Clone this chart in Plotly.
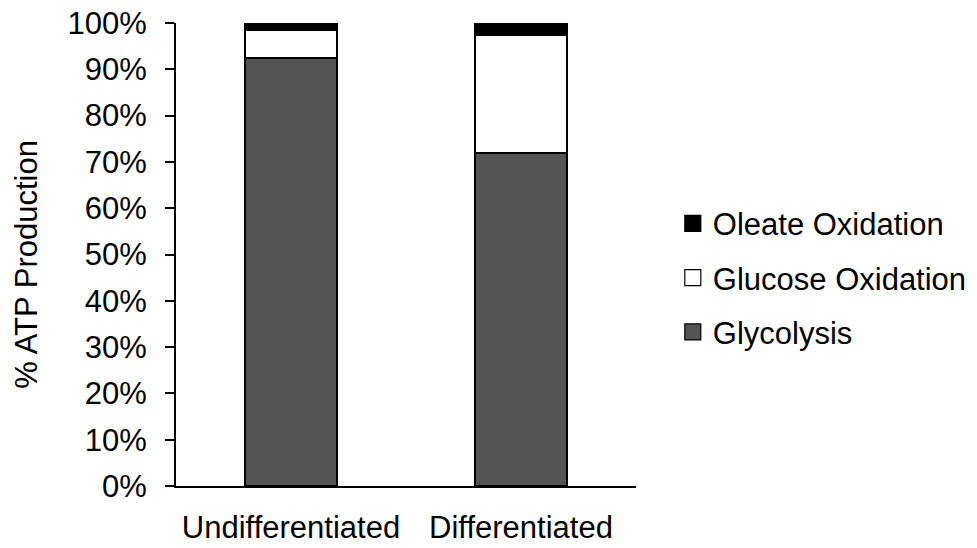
import plotly.graph_objects as go

# ATP production share by source (fraction of total)
categories = ["Undifferentiated", "Differentiated"]
glycolysis = [0.924, 0.719]
glucose_oxidation = [0.061, 0.254]
oleate_oxidation = [0.015, 0.027]

series_names = ["Glycolysis", "Glucose Oxidation", "Oleate Oxidation"]
series_values = [glycolysis, glucose_oxidation, oleate_oxidation]
series_colors = ["#545454", "#ffffff", "#000000"]

y_tick_values = [i / 10 for i in range(11)]
y_tick_labels = [f"{i * 10}%" for i in range(11)]

FONT = "Liberation Sans, Arial, sans-serif"

fig = go.Figure()
for name, vals, color in zip(series_names, series_values, series_colors):
    fig.add_trace(go.Bar(
        x=categories, y=vals, name=name,
        marker=dict(color=color, line=dict(color="#000000", width=1.5)),
        width=0.4, showlegend=False,
    ))

# legend entries drawn as larger square markers, top of stack listed first
legend_order = list(zip(series_names, series_colors))[::-1]
for i, (name, color) in enumerate(legend_order):
    fig.add_trace(go.Scatter(
        x=[None], y=[None], mode="markers", name=name,
        marker=dict(symbol="square", size=18, color=color,
                    line=dict(color="#000000", width=1.2)),
        legendgroup=f"g{i}", showlegend=True,
    ))

# vertical axis title
fig.add_annotation(
    text="% ATP Production", textangle=-90,
    xref="paper", yref="paper", x=-0.325, y=0.479,
    xanchor="center", yanchor="middle", showarrow=False,
    font=dict(size=31),
)

fig.update_layout(
    width=977, height=548,
    barmode="stack",
    plot_bgcolor="white", paper_bgcolor="white",
    margin=dict(l=175.5, r=341, t=23, b=62, autoexpand=False),
    font=dict(family=FONT, size=31, color="#000000"),
    legend=dict(
        x=1.08, xanchor="left", y=0.45, yanchor="middle",
        traceorder="grouped", tracegroupgap=11,
        font=dict(size=31), itemwidth=30,
    ),
    xaxis=dict(
        range=[-0.5, 1.5], showline=True, linecolor="#000000", linewidth=2,
        ticks="", showgrid=False, zeroline=False, automargin=False,
        tickfont=dict(size=31), ticklabelstandoff=13,
    ),
    yaxis=dict(
        range=[0, 1], tickvals=y_tick_values, ticktext=y_tick_labels,
        showline=True, linecolor="#000000", linewidth=2,
        ticks="outside", ticklen=9, tickwidth=2, tickcolor="#000000",
        showgrid=False, zeroline=False, ticklabelstandoff=12, automargin=False,
        tickfont=dict(size=31),
    ),
)

fig.write_html("out.html")
